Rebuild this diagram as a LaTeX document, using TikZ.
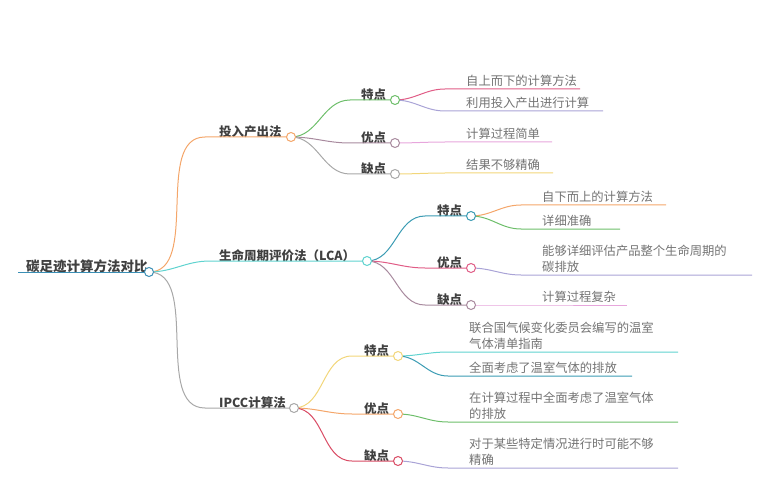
\documentclass[tikz,border=0pt]{standalone}
\usepackage{fontspec}
\setmainfont{Noto Sans CJK SC}
\usetikzlibrary{positioning}
\definecolor{cRoot}{HTML}{3B8FB5}
\definecolor{cOrange}{HTML}{F4A66A}
\definecolor{cCyan}{HTML}{5FD3CF}
\definecolor{cGray}{HTML}{A8A8A8}
\definecolor{cGreen}{HTML}{6DBE6A}
\definecolor{cPurple}{HTML}{A88A9E}
\definecolor{cPink}{HTML}{E05C86}
\definecolor{cLav}{HTML}{A9A3D6}
\definecolor{cLPink}{HTML}{E7A6DC}
\definecolor{cYellow}{HTML}{F2D67A}
\definecolor{cTeal}{HTML}{3A9BB3}
\definecolor{cRed}{HTML}{D94B64}
\begin{document}
\begin{tikzpicture}[
  x=1pt, y=-1pt,
  rootlabel/.style={font=\fontsize{13.5}{16}\selectfont\bfseries, text=black!75, anchor=south west, inner sep=1pt},
  toplabel/.style={font=\fontsize{12.5}{16}\selectfont\bfseries, text=black!75, anchor=south west, inner sep=1pt},
  leaf/.style={font=\fontsize{12.3}{16}\selectfont, text=black!55, anchor=south west, align=left, inner sep=1pt},
  knob/.style={circle, draw=#1, fill=white, line width=1pt, minimum size=9pt, inner sep=0pt},
  branch/.style={draw=#1, line width=1pt},
]
\useasboundingbox (0,0) rectangle (769,500);

% ===== ROOT =====
\node[rootlabel] (root) at (25,274) {碳足迹计算方法对比};
\coordinate (r0) at (18,272);

% ===== FIRST LEVEL =====
\node[toplabel] (m1) at (218,139) {投入产出法};
\node[toplabel] (m2) at (218,263) {生命周期评价法（LCA）};
\node[toplabel] (m3) at (218,410) {IPCC计算法};
\coordinate (m1s) at (205,137);
\coordinate (m2s) at (210,261);
\coordinate (m3s) at (205,408);

% ===== SECOND LEVEL =====
\node[toplabel] (a1) at (360,102) {特点};
\node[toplabel] (a2) at (360,145) {优点};
\node[toplabel] (a3) at (360,176) {缺点};
\node[toplabel] (b1) at (436,218) {特点};
\node[toplabel] (b2) at (436,270) {优点};
\node[toplabel] (b3) at (436,307) {缺点};
\node[toplabel] (c1) at (363,358) {特点};
\node[toplabel] (c2) at (363,416) {优点};
\node[toplabel] (c3) at (363,463) {缺点};

% ===== LEAVES =====
\node[leaf] (a1x) at (465,88) {自上而下的计算方法};
\node[leaf] (a1y) at (465,110) {利用投入产出进行计算};
\node[leaf] (a2x) at (465,141) {计算过程简单};
\node[leaf] (a3x) at (465,172) {结果不够精确};
\node[leaf] (b1x) at (541,204) {自下而上的计算方法};
\node[leaf] (b1y) at (541,228) {详细准确};
\node[leaf] (b2x) at (541,274) {能够详细评估产品整个生命周期的\\碳排放};
\node[leaf] (b3x) at (541,304) {计算过程复杂};
\node[leaf] (c1x) at (468,351) {联合国气候变化委员会编写的温室\\气体清单指南};
\node[leaf] (c1y) at (468,375) {全面考虑了温室气体的排放};
\node[leaf] (c2x) at (468,421) {在计算过程中全面考虑了温室气体\\的排放};
\node[leaf] (c3x) at (468,467) {对于某些特定情况进行时可能不够\\精确};

% ===== LINES =====
\draw[branch=cRoot] (r0) -- (149,272);
\draw[branch=cOrange] (149,272) to[out=0,in=180,looseness=0.9] (m1s) -- (291,137);
\draw[branch=cCyan] (149,272) to[out=0,in=180] (m2s) -- (367,261);
\draw[branch=cGray] (149,272) to[out=0,in=180,looseness=0.9] (m3s) -- (294,408);

\draw[branch=cGreen] (291,137) to[out=0,in=180] (350,100) -- (395,100);
\draw[branch=cPurple] (291,137) to[out=0,in=180] (350,143) -- (395,143);
\draw[branch=cGray] (291,137) to[out=0,in=180] (350,174) -- (395,174);
\draw[branch=cTeal] (367,261) to[out=0,in=180] (425,216) -- (471,216);
\draw[branch=cPink] (367,261) to[out=0,in=180] (425,268) -- (471,268);
\draw[branch=cPurple] (367,261) to[out=0,in=180] (425,305) -- (471,305);
\draw[branch=cYellow] (294,408) to[out=0,in=180] (352,356) -- (398,356);
\draw[branch=cOrange] (294,408) to[out=0,in=180] (352,414) -- (398,414);
\draw[branch=cRed] (294,408) to[out=0,in=180] (352,461) -- (398,461);

\draw[branch=cPink] (395,100) to[out=0,in=180] (445,89) -- (580,89);
\draw[branch=cLav] (395,100) to[out=0,in=180] (445,111) -- (603,111);
\draw[branch=cLPink] (395,143) to[out=0,in=180] (445,142) -- (552,142);
\draw[branch=cYellow] (395,174) to[out=0,in=180] (445,173) -- (553,173);
\draw[branch=cOrange] (471,216) to[out=0,in=180] (521,205) -- (666,205);
\draw[branch=cGreen] (471,216) to[out=0,in=180] (521,229) -- (620,229);
\draw[branch=cLav] (471,268) to[out=0,in=180] (521,275) -- (752,275);
\draw[branch=cLPink] (471,305) to[out=0,in=180] (521,305) -- (627,305);
\draw[branch=cCyan] (398,356) to[out=0,in=180] (448,352) -- (678,352);
\draw[branch=cTeal] (398,356) to[out=0,in=180] (448,376) -- (632,376);
\draw[branch=cGreen] (398,414) to[out=0,in=180] (448,422) -- (678,422);
\draw[branch=cLav] (398,461) to[out=0,in=180] (448,468) -- (678,468);

% ===== KNOBS =====
\node[knob=cRoot] (k0) at (149,272) {};
\node[knob=cOrange] (k1) at (291,137) {};
\node[knob=cCyan] (k2) at (367,261) {};
\node[knob=cGray] (k3) at (294,408) {};
\node[knob=cGreen] (ka1) at (395,100) {};
\node[knob=cPurple] (ka2) at (395,143) {};
\node[knob=cGray] (ka3) at (395,174) {};
\node[knob=cTeal] (kb1) at (471,216) {};
\node[knob=cPink] (kb2) at (471,268) {};
\node[knob=cPurple] (kb3) at (471,305) {};
\node[knob=cYellow] (kc1) at (398,356) {};
\node[knob=cOrange] (kc2) at (398,414) {};
\node[knob=cRed] (kc3) at (398,461) {};
\end{tikzpicture}
\end{document}
